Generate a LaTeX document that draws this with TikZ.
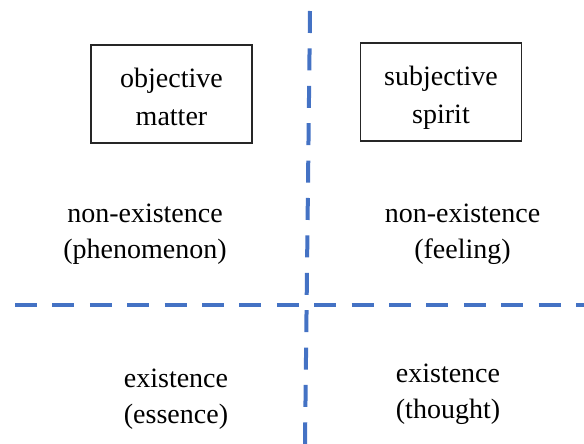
\documentclass[tikz,border=0pt]{standalone}
\usepackage{fontspec}
\setmainfont{Liberation Serif}
\usepackage{tikz}
\usetikzlibrary{positioning}
\definecolor{divblue}{RGB}{68,114,196}

\begin{document}
\begin{tikzpicture}[x=1pt, y=-1pt,
                    txt/.style={align=center, inner sep=0pt, font=\fontsize{28}{36}\selectfont},
                    box/.style={draw=black!85, line width=1.8pt, align=center, minimum width=161pt, minimum height=98pt,
                                text height=63pt, text depth=0pt, font=\fontsize{28}{38}\selectfont},
                    divider/.style={divblue, line width=4pt, dash pattern=on 22pt off 15.4pt}]
    \useasboundingbox (0,0) rectangle (584,444);
    % dividers
    \coordinate (vtop) at (310,11);
    \coordinate (vbot) at (305,444);
    \coordinate (hleft) at (15,305);
    \coordinate (hright) at (584,305);
    \draw[divider] (vtop) -- (vbot);
    \draw[divider] (hleft) -- (hright);
    % upper boxes
    \node[box] (matter) at (171.5,94) {objective\\matter};
    \node[box] (spirit) at (441,92) {subjective\\spirit};
    % quadrant labels
    \node[txt] (phen) at (145,234.5) {non-existence\\(phenomenon)};
    \node[txt] (feel) at (462.5,234.5) {non-existence\\(feeling)};
    \node[txt] (ess) at (176,399.5) {existence\\(essence)};
    \node[txt] (thou) at (448,394.5) {existence\\(thought)};
\end{tikzpicture}
\end{document}
